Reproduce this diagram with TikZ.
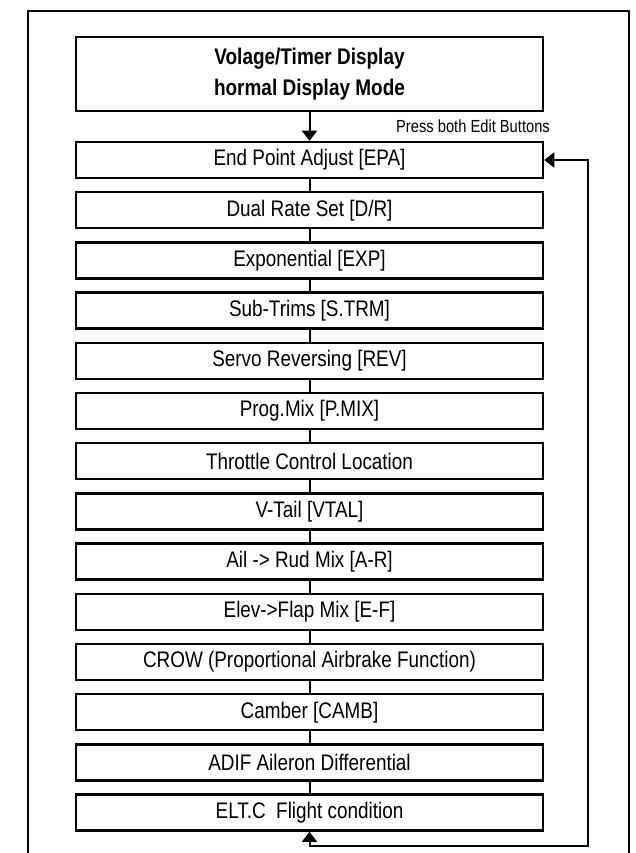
\documentclass[tikz,border=0pt]{standalone}
\usepackage{fontspec}
\setmainfont{Liberation Sans}[FakeStretch=0.84]
\usetikzlibrary{arrows.meta}
\begin{document}
\begin{tikzpicture}[x=1pt,y=-1pt,
  box/.style={draw, line width=2.5pt, minimum width=467pt, minimum height=36pt, inner sep=0pt,
    font=\fontsize{22.5}{26}\selectfont},
  conn/.style={line width=2pt},
  tip/.tip={Triangle[length=10pt,width=15pt]},
  arr/.style={line width=2pt, -tip}]
\useasboundingbox (0,0) rectangle (635,853);
\draw[line width=2.5pt] (28,880) -- (28,11) -- (629,11) -- (629,880);
\node[box, minimum height=74pt, align=center, font=\bfseries\fontsize{22.6}{31.3}\selectfont] (top) at (309.5,74)
  {Volage/Timer Display\\hormal Display Mode};
\node[box] (b0)  at (309.5,160.0) {End Point Adjust [EPA]};
\node[box] (b1)  at (309.5,210.2) {Dual Rate Set [D/R]};
\node[box] (b2)  at (309.5,260.4) {Exponential [EXP]};
\node[box] (b3)  at (309.5,310.6) {Sub-Trims [S.TRM]};
\node[box] (b4)  at (309.5,360.8) {Servo Reversing [REV]};
\node[box] (b5)  at (309.5,411.0) {Prog.Mix [P.MIX]};
\node[box] (b6)  at (309.5,461.2) {Throttle Control Location};
\node[box] (b7)  at (309.5,511.4) {V-Tail [VTAL]};
\node[box] (b8)  at (309.5,561.6) {Ail -> Rud Mix [A-R]};
\node[box] (b9)  at (309.5,611.8) {Elev->Flap Mix [E-F]};
\node[box] (b10) at (309.5,662.0) {CROW (Proportional Airbrake Function)};
\node[box] (b11) at (309.5,712.2) {Camber [CAMB]};
\node[box] (b12) at (309.5,762.4) {ADIF Aileron Differential};
\node[box] (b13) at (309.5,812.6) {ELT.C\ \ Flight condition};
\node[font=\fontsize{17.5}{20}\selectfont, anchor=base east, inner sep=0pt] (lbl) at (550,133) {Press both Edit Buttons};
\draw[arr] (top.south) -- (b0.north);
\foreach \i [evaluate=\i as \j using int(\i+1)] in {0,...,12}
  \draw[conn] (b\i.south) -- (b\j.north);
\coordinate (c1) at (588,846);
\draw[line width=2pt, tip-tip] (b13.south) |- (c1) |- (b0.east);
\end{tikzpicture}
\end{document}
